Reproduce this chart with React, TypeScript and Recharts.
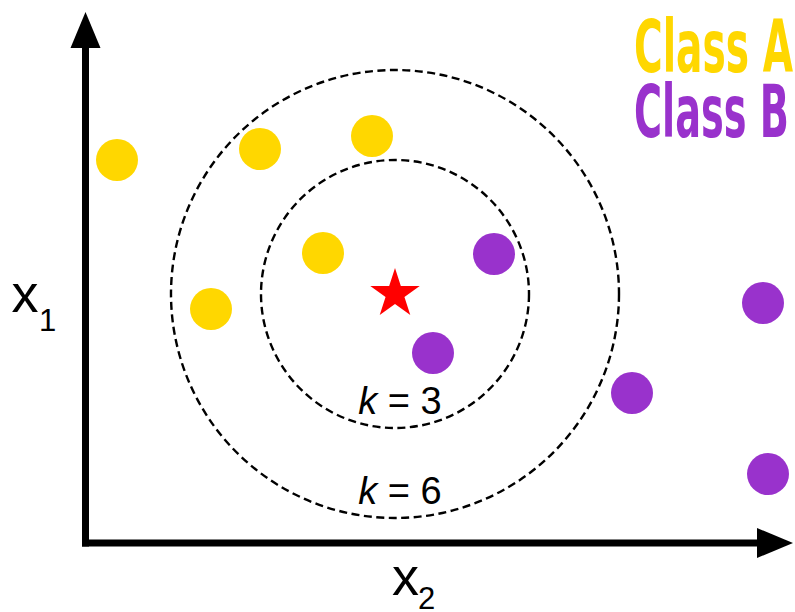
import React from 'react';
import { ScatterChart, Scatter, XAxis, YAxis, ReferenceLine, Legend } from 'recharts';

// ---- data (feature space units) ----
const CLASS_NAMES = ['Class A', 'Class B'];
const CLASS_A_X2 = [0.63, 3.49, 5.73, 4.75, 2.51];
const CLASS_A_X1 = [7.66, 7.88, 8.14, 5.8, 4.68];
const CLASS_B_X2 = [8.17, 6.95, 10.93, 13.55, 13.65];
const CLASS_B_X1 = [5.78, 3.8, 3.0, 4.8, 1.38];
const QUERY_X2 = [6.19];
const QUERY_X1 = [4.98];
const K_VALUES = [3, 6];
const K_RADII = [2.68, 4.48];
const AXIS_NAMES = ['x', 'x'];
const AXIS_SUBS = ['2', '1'];
const X_MAX = 14.19;
const Y_MAX = 10.62;
const X_TIP = 14.15;
const Y_TIP = 10.62;

// ---- layout / style ----
const W = 795;
const H = 612;
const MARGIN = { top: 12, right: 0, bottom: 69, left: 85.5 };
const PX_PER_UNIT = (W - MARGIN.left - MARGIN.right) / X_MAX;
const COLORS = ['#FFD700', '#9932CC'];
const STAR_COLOR = '#FF0000';
const DOT_R = 21;
const FONT = "'Liberation Sans', Arial, Helvetica, sans-serif";
const NARROW = "'Liberation Sans Narrow', 'DejaVu Sans Condensed', 'Liberation Sans', sans-serif";

const classA = CLASS_A_X2.map((x, i) => ({ x, y: CLASS_A_X1[i] }));
const classB = CLASS_B_X2.map((x, i) => ({ x, y: CLASS_B_X1[i] }));
const query = QUERY_X2.map((x, i) => ({ x, y: QUERY_X1[i] }));
const rings = K_VALUES.map((k, i) => ({ x: QUERY_X2[0], y: QUERY_X1[0], k, radius: K_RADII[i] }));

const dotShape = (fill: string) => (props: any) => {
  const { cx, cy } = props;
  if (cx == null || cy == null) return <g />;
  return <circle cx={cx} cy={cy} r={DOT_R} fill={fill} />;
};

const starShape = (props: any) => {
  const { cx, cy } = props;
  const R = 26;
  const r = R * 0.382;
  const pts: string[] = [];
  for (let i = 0; i < 10; i++) {
    const rad = i % 2 === 0 ? R : r;
    const a = -Math.PI / 2 + (i * Math.PI) / 5;
    pts.push(`${cx + rad * Math.cos(a)},${cy + rad * Math.sin(a)}`);
  }
  return <polygon points={pts.join(' ')} fill={STAR_COLOR} />;
};

const ringShape = (props: any) => {
  const { cx, cy, payload } = props;
  const rPx = payload.radius * PX_PER_UNIT;
  return (
    <g>
      <circle cx={cx} cy={cy} r={rPx} fill="none" stroke="#000" strokeWidth={2.4} strokeDasharray="8 4.5" />
      <text x={cx + 5} y={cy + rPx - 14} textAnchor="middle" fontFamily={FONT} fontSize={38} fill="#000">
        <tspan fontStyle="italic">k</tspan>
        <tspan>{` = ${payload.k}`}</tspan>
      </text>
    </g>
  );
};

const ARROW_LEN = 36;
const ARROW_HALF = 15;

const makeAxisShape = (idx: number) => (props: any) => {
  const { x1, y1, x2, y2 } = props;
  const dx = x2 - x1;
  const dy = y2 - y1;
  const len = Math.hypot(dx, dy) || 1;
  const ux = dx / len;
  const uy = dy / len;
  const bx = x2 - ux * ARROW_LEN;
  const by = y2 - uy * ARROW_LEN;
  const nx = -uy;
  const ny = ux;
  const isX = idx === 0;
  const lx = isX ? x1 + 306.5 : x1 - 74;
  const ly = isX ? y1 + 52 : y1 - 231;
  const sx = isX ? x1 + 332.5 : x1 - 46.5;
  const sy = isX ? y1 + 66 : y1 - 212;
  return (
    <g>
      <line x1={x1} y1={y1} x2={bx} y2={by} stroke="#000" strokeWidth={7} strokeLinecap="square" />
      <polygon
        points={`${x2},${y2} ${bx + nx * ARROW_HALF},${by + ny * ARROW_HALF} ${bx - nx * ARROW_HALF},${by - ny * ARROW_HALF}`}
        fill="#000"
      />
      <text x={lx} y={ly} fontFamily={FONT} fontSize={54} fill="#000">{AXIS_NAMES[idx]}</text>
      <text x={sx} y={sy} fontFamily={FONT} fontSize={31} fill="#000">{AXIS_SUBS[idx]}</text>
    </g>
  );
};

const LEGEND_WIDTHS = [159, 155];

const renderLegend = (props: any) => {
  const payload = (props.payload || []).filter((p: any) => CLASS_NAMES.includes(p.value));
  return (
    <svg width={W} height={160} style={{ display: 'block' }}>
      {payload.map((entry: any, i: number) => (
        <text
          key={entry.value}
          x={634}
          y={72 + 65 * i}
          fontFamily={NARROW}
          fontWeight="bold"
          fontSize={73}
          fill={entry.color}
          textLength={LEGEND_WIDTHS[i]}
          lengthAdjust="spacingAndGlyphs"
        >
          {entry.value}
        </text>
      ))}
    </svg>
  );
};

export default function App() {
  return (
    <div style={{ position: 'absolute', left: 0, top: 0, width: W, height: H, background: '#fff' }}>
      <ScatterChart width={W} height={H} margin={MARGIN}>
        <XAxis type="number" dataKey="x" domain={[0, X_MAX]} hide />
        <YAxis type="number" dataKey="y" domain={[0, Y_MAX]} hide />
        <ReferenceLine
          segment={[{ x: 0, y: 0 }, { x: X_TIP, y: 0 }]}
          ifOverflow="visible"
          shape={makeAxisShape(0)}
        />
        <ReferenceLine
          segment={[{ x: 0, y: 0 }, { x: 0, y: Y_TIP }]}
          ifOverflow="visible"
          shape={makeAxisShape(1)}
        />
        <Scatter name="rings" data={rings} shape={ringShape} legendType="none" isAnimationActive={false} />
        <Scatter name={CLASS_NAMES[0]} data={classA} fill={COLORS[0]} shape={dotShape(COLORS[0])} isAnimationActive={false} />
        <Scatter name={CLASS_NAMES[1]} data={classB} fill={COLORS[1]} shape={dotShape(COLORS[1])} isAnimationActive={false} />
        <Scatter name="query" data={query} fill={STAR_COLOR} shape={starShape} legendType="none" isAnimationActive={false} />
        <Legend
          layout="horizontal"
          verticalAlign="middle"
          align="center"
          wrapperStyle={{ top: 0, left: 0, width: W, height: 160 }}
          content={renderLegend}
        />
      </ScatterChart>
    </div>
  );
}
